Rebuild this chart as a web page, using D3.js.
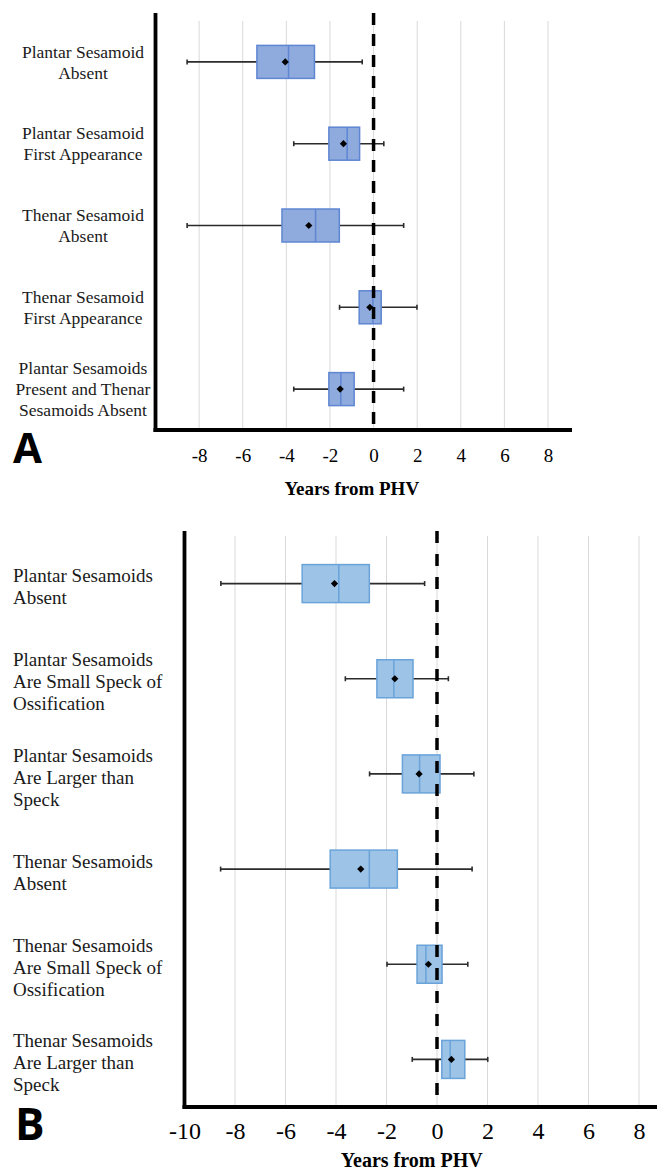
<!DOCTYPE html>
<html>
<head>
<meta charset="utf-8">
<script src="https://cdn.jsdelivr.net/npm/d3@7"></script>
<style>
  body { margin: 0; background: #fff; }
  svg { display: block; }
</style>
</head>
<body>
<script>
// panel A data (years from PHV)
var catsA = ["Plantar Sesamoid\nAbsent", "Plantar Sesamoid\nFirst Appearance", "Thenar Sesamoid\nAbsent",
             "Thenar Sesamoid\nFirst Appearance", "Plantar Sesamoids\nPresent and Thenar\nSesamoids Absent"];
var minA  = [-8.55, -3.66, -8.55, -1.56, -3.66];
var q1A   = [-5.35, -2.05, -4.20, -0.66, -2.05];
var medA  = [-3.90, -1.21, -2.66, -0.03, -1.50];
var q3A   = [-2.71, -0.64, -1.57,  0.35, -0.89];
var maxA  = [-0.52,  0.47,  1.38,  1.99,  1.38];
var meanA = [-4.05, -1.38, -2.97, -0.17, -1.53];
var gridA = [-8, -6, -4, -2, 0, 2, 4, 6, 8];
var ticksA = [-8, -6, -4, -2, 0, 2, 4, 6, 8];

// panel B data
var catsB = ["Plantar Sesamoids\nAbsent", "Plantar Sesamoids\nAre Small Speck of\nOssification",
             "Plantar Sesamoids\nAre Larger than\nSpeck", "Thenar Sesamoids\nAbsent",
             "Thenar Sesamoids\nAre Small Speck of\nOssification", "Thenar Sesamoids\nAre Larger than\nSpeck"];
var minB  = [-8.56, -3.63, -2.67, -8.57, -1.98, -0.98];
var q1B   = [-5.34, -2.38, -1.37, -4.23, -0.79,  0.19];
var medB  = [-3.89, -1.71, -0.69, -2.68, -0.44,  0.52];
var q3B   = [-2.68, -0.95,  0.12, -1.57,  0.20,  1.10];
var maxB  = [-0.49,  0.45,  1.46,  1.39,  1.22,  2.01];
var meanB = [-4.06, -1.67, -0.71, -3.02, -0.34,  0.57];
var gridB = [-8, -6, -4, -2, 0, 2, 4, 6, 8, 10];
var ticksB = [-10, -8, -6, -4, -2, 0, 2, 4, 6, 8];

var serif = "'Liberation Serif', 'Times New Roman', Times, serif";

var svg = d3.select("body")
    .append("svg")
        .attr("width", 657)
        .attr("height", 1172);

function drawPanel(p) {
    var rows = p.cats.map(function(c, i) {
        return {cat: c, min: p.min[i], q1: p.q1[i], med: p.med[i], q3: p.q3[i], max: p.max[i], mean: p.mean[i]};
    });

    var x = d3.scaleLinear().domain(p.xDomain).range(p.xRange);
    var y = d3.scalePoint().domain(p.cats).range(p.yRange).padding(0.5);
    var bottom = p.yRange[1];

    var g = svg.append("g");

    // gridlines
    g.selectAll(".grid").data(p.grid)
        .enter().append("line")
        .attr("x1", function(d) { return x(d); })
        .attr("x2", function(d) { return x(d); })
        .attr("y1", p.yRange[0])
        .attr("y2", bottom)
        .attr("stroke", "#d9d9d9")
        .attr("stroke-width", 1);

    // whiskers
    var box = g.selectAll(".box").data(rows).enter().append("g");
    box.append("line")
        .attr("x1", function(d) { return x(d.min); })
        .attr("x2", function(d) { return x(d.max); })
        .attr("y1", function(d) { return y(d.cat); })
        .attr("y2", function(d) { return y(d.cat); })
        .attr("stroke", "#2b2b2b")
        .attr("stroke-width", 1.6);
    ["min", "max"].forEach(function(k) {
        box.append("line")
            .attr("x1", function(d) { return x(d[k]); })
            .attr("x2", function(d) { return x(d[k]); })
            .attr("y1", function(d) { return y(d.cat) - 2.5; })
            .attr("y2", function(d) { return y(d.cat) + 2.5; })
            .attr("stroke", "#2b2b2b")
            .attr("stroke-width", 1.6);
    });

    box.append("rect")
        .attr("x", function(d) { return x(d.q1); })
        .attr("y", function(d) { return y(d.cat) - p.boxH / 2; })
        .attr("width", function(d) { return x(d.q3) - x(d.q1); })
        .attr("height", p.boxH)
        .attr("fill", p.fill)
        .attr("stroke", p.stroke)
        .attr("stroke-width", 1.5);
    box.append("line")
        .attr("x1", function(d) { return x(d.med); })
        .attr("x2", function(d) { return x(d.med); })
        .attr("y1", function(d) { return y(d.cat) - p.boxH / 2; })
        .attr("y2", function(d) { return y(d.cat) + p.boxH / 2; })
        .attr("stroke", p.stroke)
        .attr("stroke-width", 1.5);
    box.append("path")
        .attr("d", d3.symbol(d3.symbolSquare).size(26))
        .attr("transform", function(d) { return "translate(" + x(d.mean) + "," + y(d.cat) + ") rotate(45)"; })
        .attr("fill", "#000");

    // dashed PHV line
    g.append("line")
        .attr("x1", x(0)).attr("x2", x(0))
        .attr("y1", p.axisTop).attr("y2", bottom)
        .attr("stroke", "#000")
        .attr("stroke-width", 3.5)
        .attr("stroke-dasharray", p.dash);

    // axes lines
    g.append("line")
        .attr("x1", x(p.xDomain[0])).attr("x2", x(p.xDomain[0]))
        .attr("y1", p.axisTop).attr("y2", bottom + 2)
        .attr("stroke", "#000").attr("stroke-width", 3.8);
    g.append("line")
        .attr("x1", x(p.xDomain[0]) - 2).attr("x2", x(p.xDomain[1]))
        .attr("y1", bottom).attr("y2", bottom)
        .attr("stroke", "#000").attr("stroke-width", 3.8);

    // tick labels
    var ax = g.append("g")
        .attr("transform", "translate(0," + bottom + ")")
        .call(d3.axisBottom(x).tickValues(p.tickLabels).tickSize(0));
    ax.attr("font-family", null).attr("font-size", null);
    ax.select(".domain").remove();
    ax.selectAll("text")
        .attr("y", p.tickOffset)
        .attr("dy", 0)
        .style("font-family", serif)
        .style("font-size", p.tickSize + "px")
        .attr("fill", "#000")
        .text(function(d) { return d < 0 ? "-" + Math.abs(d) : d; });

    g.append("text")
        .attr("x", x(-1))
        .attr("y", bottom + p.titleOffset)
        .attr("text-anchor", "middle")
        .style("font-family", serif)
        .style("font-weight", "bold")
        .style("font-size", p.titleSize + "px")
        .text("Years from PHV");

    // category labels
    var lab = g.selectAll(".lab").data(p.cats).enter().append("text")
        .style("font-family", serif)
        .style("font-size", p.labSize + "px")
        .attr("fill", "#1a1a1a")
        .attr("text-anchor", p.labAnchor);
    lab.each(function(c) {
        var lines = c.split("\n");
        var t = d3.select(this);
        lines.forEach(function(s, i) {
            t.append("tspan")
                .attr("x", p.labX)
                .attr("y", y(c) + p.labShift + (i - (lines.length - 1) / 2) * p.labLH)
                .attr("dy", "0.35em")
                .text(s);
        });
    });

    // panel letter
    g.append("text")
        .attr("x", p.letterX)
        .attr("y", bottom + p.letterOffset)
        .style("font-family", "'Open Sans', 'DejaVu Sans', sans-serif")
        .style("font-weight", "bold")
        .style("font-size", p.letterSize + "px")
        .text(p.letter);
}

drawPanel({
    cats: catsA, min: minA, q1: q1A, med: medA, q3: q3A, max: maxA, mean: meanA,
    grid: gridA, tickLabels: ticksA,
    xDomain: [-10, 9.1], xRange: [155.5, 572],
    yRange: [21, 430], axisTop: 13,
    boxH: 33, fill: "#8faadc", stroke: "#5f86d3", dash: "12,9",
    tickOffset: 32, tickSize: 19, titleOffset: 65, titleSize: 19,
    labX: 83, labAnchor: "middle", labSize: 17.5, labLH: 21, labShift: 0,
    letter: "A", letterX: 13, letterOffset: 33, letterSize: 42
});

drawPanel({
    cats: catsB, min: minB, q1: q1B, med: medB, q3: q3B, max: maxB, mean: meanB,
    grid: gridB, tickLabels: ticksB,
    xDomain: [-10, 10], xRange: [184.5, 689.5],
    yRange: [536, 1107], axisTop: 531,
    boxH: 38, fill: "#9dc3e6", stroke: "#6aa3da", dash: "12,11",
    tickOffset: 32, tickSize: 24, titleOffset: 60, titleSize: 20,
    labX: 13, labAnchor: "start", labSize: 19, labLH: 22, labShift: 3,
    letter: "B", letterX: 15, letterOffset: 33, letterSize: 44
});
</script>
</body>
</html>
